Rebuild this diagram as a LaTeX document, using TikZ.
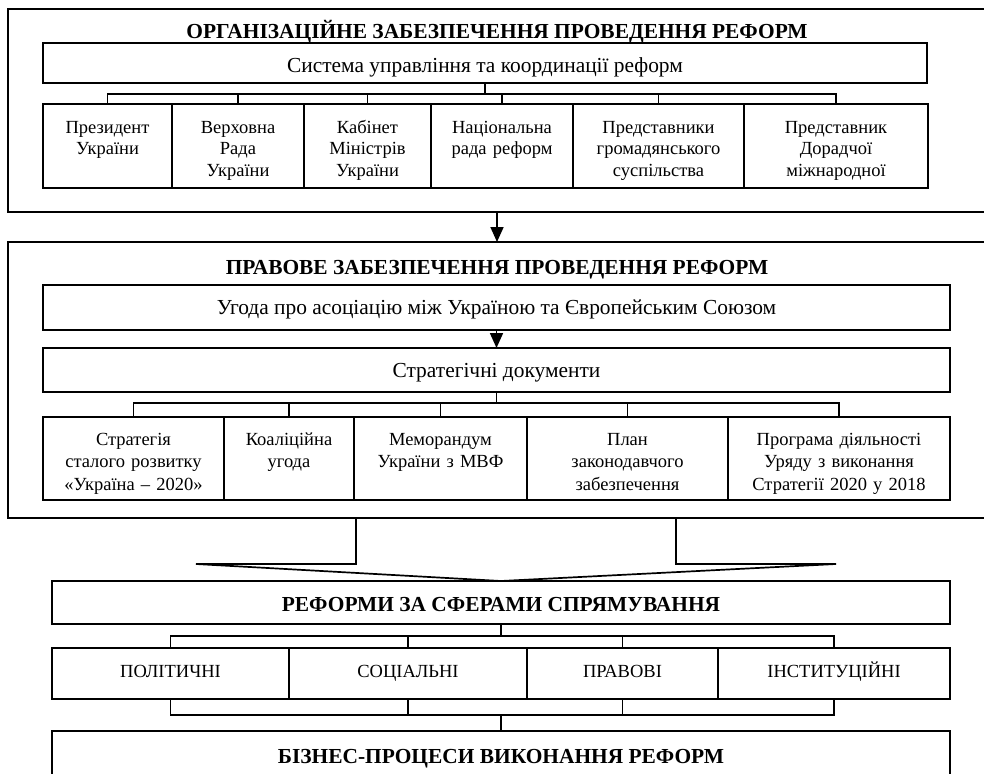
\documentclass[tikz,border=0pt]{standalone}
\usepackage{fontspec}
\setmainfont{Liberation Serif}
\usetikzlibrary{arrows.meta}

\begin{document}
\begin{tikzpicture}[x=1pt, y=-1pt, line width=1.7pt,
    frame/.style={draw, anchor=north west, inner sep=0pt, outer sep=0pt},
    cell/.style={draw, anchor=north west, inner sep=0pt, outer sep=0pt, align=center},
    wide/.style={cell, font=\fontsize{21.4}{24}\selectfont},
    orgcell/.style={cell, text height=29pt, text depth=55pt, font=\fontsize{18.5}{21.5}\selectfont},
    doccell/.style={cell, text height=28pt, text depth=55pt, font=\fontsize{18.5}{22.5}\selectfont},
    sphere/.style={cell, text height=29pt, text depth=22pt, font=\fontsize{18.5}{21}\selectfont},
    headline/.style={anchor=base, font=\bfseries\fontsize{21.4}{24}\selectfont},
    link/.style={-{Triangle[width=13pt,length=15pt]}}]
    \useasboundingbox (0,0) rectangle (984,773);
    \clip (0,0) rectangle (984,773);

    % Outer frames
    \node[frame, minimum width=978pt, minimum height=203pt] (orgframe) at (8,9) {};
    \node[frame, minimum width=978pt, minimum height=276pt] (lawframe) at (8,242) {};
    \draw[link] (orgframe.south) -- (lawframe.north);

    % Organisational support
    \node[headline] (orgtitle) at (497,39) {ОРГАНІЗАЦІЙНЕ ЗАБЕЗПЕЧЕННЯ ПРОВЕДЕННЯ РЕФОРМ};
    \node[wide, minimum width=884pt, text height=30pt, text depth=10pt] (control) at (43,43) {Система управління та координації реформ};
    \node[orgcell, text width=129pt] (pres) at (43,104) {Президент\\України};
    \node[orgcell, text width=132pt] (rada) at (172,104) {Верховна\\Рада\\України};
    \node[orgcell, text width=127pt] (cab) at (304,104) {Кабінет\\Міністрів\\України};
    \node[orgcell, text width=142pt] (natcouncil) at (431,104) {Національна\\рада реформ};
    \node[orgcell, text width=171pt] (civil) at (573,104) {Представники\\громадянського\\суспільства};
    \node[orgcell, text width=184pt] (advisor) at (744,104) {Представник\\Дорадчої\\міжнародної};
    \draw (control.south) -- ++(0,11) -| (pres.north);
    \draw (control.south) -- ++(0,11) -| (rada.north);
    \draw (control.south) -- ++(0,11) -| (cab.north);
    \draw (control.south) -- ++(0,11) -| (natcouncil.north);
    \draw (control.south) -- ++(0,11) -| (civil.north);
    \draw (control.south) -- ++(0,11) -| (advisor.north);

    % Legal support
    \node[headline] (lawtitle) at (497,274) {ПРАВОВЕ ЗАБЕЗПЕЧЕННЯ ПРОВЕДЕННЯ РЕФОРМ};
    \node[wide, minimum width=907pt, text height=29pt, text depth=16pt] (assoc) at (43,285) {Угода про асоціацію між Україною та Європейським Союзом};
    \node[wide, minimum width=907pt, text height=29pt, text depth=15pt] (strat) at (43,348) {Стратегічні документи};
    \draw[link] (assoc.south) -- (strat.north);
    \node[doccell, text width=181pt] (sustain) at (43,417) {Стратегія\\сталого розвитку\\«Україна – 2020»};
    \node[doccell, text width=130pt] (coalition) at (224,417) {Коаліційна\\угода};
    \node[doccell, text width=173pt] (imf) at (354,417) {Меморандум\\України з МВФ};
    \node[doccell, text width=201pt] (legplan) at (527,417) {План\\законодавчого\\забезпечення};
    \node[doccell, text width=222pt] (govprog) at (728,417) {Програма діяльності\\Уряду з виконання\\Стратегії 2020 у 2018};
    \draw (strat.south) -- ++(0,11) -| (sustain.north);
    \draw (strat.south) -- ++(0,11) -| (coalition.north);
    \draw (strat.south) -- ++(0,11) -| (imf.north);
    \draw (strat.south) -- ++(0,11) -| (legplan.north);
    \draw (strat.south) -- ++(0,11) -| (govprog.north);

    % Reforms by sphere
    \node[wide, font=\bfseries\fontsize{21.4}{24}\selectfont, minimum width=898pt, text height=30pt, text depth=13pt] (reforms) at (52,581) {РЕФОРМИ ЗА СФЕРАМИ СПРЯМУВАННЯ};
    \draw (356,0 |- lawframe.south) -- (356,564) -- (196,564) -- (reforms.north);
    \draw (676,0 |- lawframe.south) -- (676,564) -- (836,564) -- (reforms.north);
    \node[sphere, text width=237pt] (political) at (52,648) {ПОЛІТИЧНІ};
    \node[sphere, text width=238pt] (social) at (289,648) {СОЦІАЛЬНІ};
    \node[sphere, text width=191pt] (legal) at (527,648) {ПРАВОВІ};
    \node[sphere, text width=232pt] (institut) at (718,648) {ІНСТИТУЦІЙНІ};
    \draw (reforms.south) -- ++(0,12) -| (political.north);
    \draw (reforms.south) -- ++(0,12) -| (social.north);
    \draw (reforms.south) -- ++(0,12) -| (legal.north);
    \draw (reforms.south) -- ++(0,12) -| (institut.north);

    % Business processes
    \node[wide, font=\bfseries\fontsize{21.4}{24}\selectfont, minimum width=898pt, text height=32pt, text depth=20pt] (business) at (52,731) {БІЗНЕС-ПРОЦЕСИ ВИКОНАННЯ РЕФОРМ};
    \draw (political.south) -- ++(0,16) -| (business.north);
    \draw (social.south) -- ++(0,16) -| (business.north);
    \draw (legal.south) -- ++(0,16) -| (business.north);
    \draw (institut.south) -- ++(0,16) -| (business.north);
\end{tikzpicture}
\end{document}
